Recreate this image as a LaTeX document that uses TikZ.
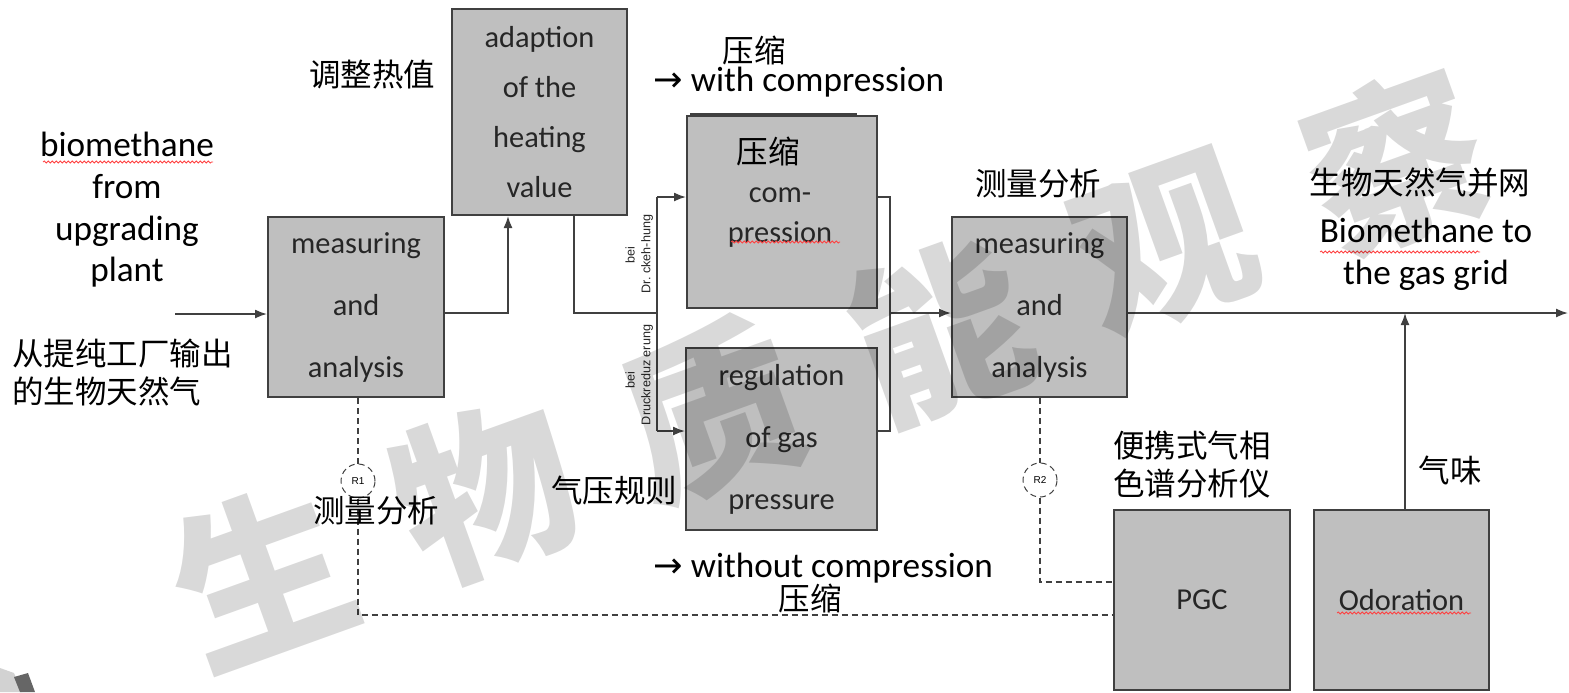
\documentclass[tikz,border=0pt]{standalone}
\usepackage{fontspec}
\setmainfont{Carlito}
\newfontfamily\cjk{Noto Sans CJK SC}
\newfontfamily\arialf{Liberation Sans}
\newfontfamily\dejavu{DejaVu Sans}
\usetikzlibrary{arrows.meta,decorations.pathmorphing}
\definecolor{boxfill}{HTML}{BFBFBF}
\definecolor{edge}{HTML}{404040}
\definecolor{txt}{HTML}{262626}
\tikzset{
  box/.style={draw=edge, line width=1pt, fill=boxfill, inner sep=0pt, text=txt, align=center, font=\fontsize{15.2}{31}\selectfont},
  conn/.style={draw=edge, line width=0.8pt},
  arr/.style={conn, -{Latex[length=6pt,width=4.5pt]}},
  dsh/.style={draw=edge, line width=0.8pt, dash pattern=on 3pt off 2pt},
  lbl/.style={align=center, inner sep=0pt, text=txt, font=\fontsize{17.6}{20.8}\selectfont},
  zh/.style={inner sep=0pt, align=left, font=\cjk\fontsize{15.75}{19}\selectfont},
  rot/.style={rotate=90, inner sep=0pt, text=txt, font=\arialf\fontsize{6.3}{7}\selectfont},
  ring/.style={draw=edge, circle, inner sep=0pt, line width=0.5pt, densely dashed, font=\arialf\fontsize{5}{5}\selectfont},
  squig/.style={draw=red!75, line width=0.4pt, decorate, decoration={snake, amplitude=0.5pt, segment length=2pt}},
  wm/.style={rotate=19.8, inner sep=0pt, text=black, text opacity=0.15, font=\cjk\bfseries\fontsize{88}{88}\selectfont}
}
\begin{document}
\begin{tikzpicture}[x=0.5pt,y=-0.5pt]
\useasboundingbox (0,0) rectangle (1569,692);
% boxes
\node[box, minimum width=88pt, minimum height=90pt] (m1) at (356,307) {measuring\\and\\analysis};
\node[box, minimum width=87.5pt, minimum height=103pt, font=\fontsize{15.2}{25}\selectfont] (adapt) at (539.5,112) {adaption\\of the\\heating\\value};
\draw[draw=edge, line width=0.6pt] (690,114) -- (857,114);
\node[box, minimum width=95pt, minimum height=96pt] (comp) at (782,212) {};
\node[align=center, text=txt, inner sep=0pt, font=\fontsize{15.2}{19.7}\selectfont] (comptxt) at (780,192) {{\cjk\fontsize{15.75}{19.7}\selectfont\color{black}压缩\hspace*{12pt}}\\com-\\pression};
\node[box, minimum width=95.5pt, minimum height=91pt] (reg) at (781.5,439) {regulation\\of gas\\pressure};
\node[box, minimum width=87.5pt, minimum height=90pt] (m2) at (1039.5,307) {measuring\\and\\analysis};
\node[box, minimum width=88pt, minimum height=90pt] (pgc) at (1202,600) {PGC};
\node[box, minimum width=87.5pt, minimum height=90pt] (odor) at (1401.5,600) {Odoration};
% connectors
\coordinate (in) at (175,314);
\draw[arr] (in) -- (in -| m1.west);
\coordinate (j1) at (508,313);
\draw[arr] (j1 -| m1.east) -- (j1) -- (j1 |- adapt.south);
\coordinate (j2) at (574,313);
\coordinate (j3) at (657,313);
\draw[conn] (j2 |- adapt.south) -- (j2) -- (j3);
\coordinate (sp1) at (657,197);
\coordinate (sp2) at (657,431);
\draw[conn] (sp1) -- (sp2);
\draw[arr] (sp1) -- (sp1 -| comp.west);
\draw[arr] (sp2) -- (sp2 -| reg.west);
\coordinate (mg1) at (890,197);
\coordinate (mg2) at (890,431);
\coordinate (mg) at (890,313);
\draw[conn] (mg1 -| comp.east) -- (mg1) -- (mg2) -- (mg2 -| reg.east);
\draw[arr] (mg) -- (mg -| m2.west);
\coordinate (out) at (1568,313);
\draw[arr] (out -| m2.east) -- (out);
\coordinate (od) at (1405,313);
\draw[arr] (od |- odor.north) -- (od);
% dashed signal lines
\node[ring, minimum size=17pt] (r1) at (358,481) {R1};
\coordinate (d1) at (358,615);
\draw[dsh] (r1 |- m1.south) -- (r1.north);
\draw[dsh] (r1.south) -- (d1) -- (d1 -| pgc.west);
\node[ring, minimum size=17pt] (r2) at (1040,480) {R2};
\coordinate (d2) at (1040,582);
\draw[dsh] (r2 |- m2.south) -- (r2.north);
\draw[dsh] (r2.south) -- (d2) -- (d2 -| pgc.west);
% rotated small labels
\node[rot] (bei1) at (630,255) {bei};
\node[rot] (dr1) at (647,254) {Dr.\ ckeh-hung};
\node[rot] (bei2) at (630,380) {bei};
\node[rot] (dr2) at (647,375) {Druckreduz erung};
% labels
\node[lbl, text=black] (src) at (127,210) {biomethane\\from\\upgrading\\plant};
\node[zh, anchor=west] (srczh) at (12,373) {从提纯工厂输出\\的生物天然气};
\node[zh] (adzh) at (372,75) {调整热值};
\node[zh] (wczh) at (754,50) {压缩};
\node[lbl, anchor=west, text=black] (wc) at (653,82) {{\dejavu →}\ with compression};
\node[lbl, anchor=west, text=black] (woc) at (653,568) {{\dejavu →}\ without compression};
\node[zh] (woczh) at (810,598) {压缩};
\node[zh] (regzh) at (614,491) {气压规则};
\node[zh] (m1zh) at (376,511) {测量分析};
\node[zh] (m2zh) at (1038,184) {测量分析};
\node[zh] (gridzh) at (1420,183) {生物天然气并网};
\node[lbl, text=black] (grid) at (1426,254) {Biomethane to\\the gas grid};
\node[zh, anchor=west] (pgczh) at (1113,465) {便携式气相\\色谱分析仪};
\node[zh] (odzh) at (1450,470) {气味};
% spell-check squiggles
\draw[squig] (43,162) -- (213,162);
\draw[squig] (731,242) -- (840,242);
\draw[squig] (1337,613) -- (1471,613);
\draw[squig] (1320,252) -- (1480,252);
% corner logo fragment
\fill[gray!35] (0,668) -- (14,673) -- (22,692) -- (0,692) -- cycle;
\fill[gray!80!black] (14,677) -- (28,673) -- (35,692) -- (20,692) -- cycle;
% watermark
\node[wm] (wm0) at (262,575) {生};
\node[wm] (wm1) at (485,492) {物};
\node[wm] (wm2) at (710,410) {质};
\node[wm] (wm3) at (940,330) {能};
\node[wm] (wm4) at (1165,245) {观};
\node[wm] (wm5) at (1395,162) {察};
\end{tikzpicture}
\end{document}
